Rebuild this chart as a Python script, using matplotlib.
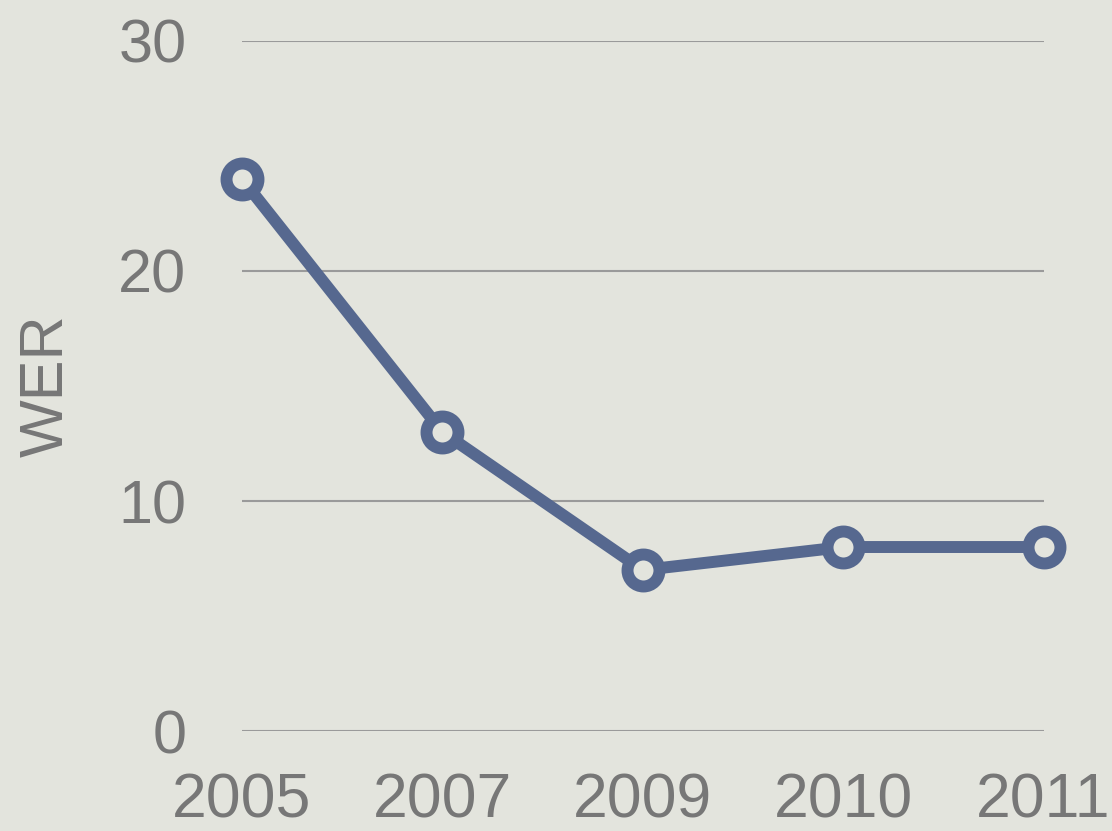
import matplotlib
matplotlib.use('Agg')
from matplotlib import pyplot as plt

# data
years = ['2005', '2007', '2009', '2010', '2011']
wer = [24, 13, 7, 8, 8]
yticks = [0, 10, 20, 30]

bg = '#e3e4dd'
line_col = '#56688f'
text_col = '#777777'

plt.rcParams['font.family'] = ['Liberation Sans', 'DejaVu Sans']

fig = plt.figure(figsize=(11.12, 8.31), dpi=100, facecolor=bg)
ax = fig.add_axes([0.2176, 0.1203, 0.7209, 0.8304])
ax.set_facecolor(bg)

x = list(range(len(years)))
ax.plot(x, wer, color=line_col, linewidth=8.6, marker='o', markersize=23,
        markerfacecolor=bg, markeredgecolor=line_col, markeredgewidth=8.6,
        clip_on=False, zorder=3)

ax.set_xlim(0, len(years) - 1)
ax.set_ylim(0, 30)
ax.set_yticks(yticks)
ax.set_xticks(x)
ax.set_xticklabels(years)

for s in ax.spines.values():
    s.set_visible(False)
ax.grid(axis='y', color='#9a9a9a', linewidth=1.5)
ax.set_axisbelow(True)
ax.tick_params(axis='both', length=0, labelcolor=text_col)
ax.tick_params(axis='y', pad=40, labelsize=44)
ax.tick_params(axis='x', pad=29, labelsize=45)
ax.set_ylabel('WER', fontsize=44, color=text_col, labelpad=31)

plt.savefig('out.png', dpi=100, facecolor=bg)
